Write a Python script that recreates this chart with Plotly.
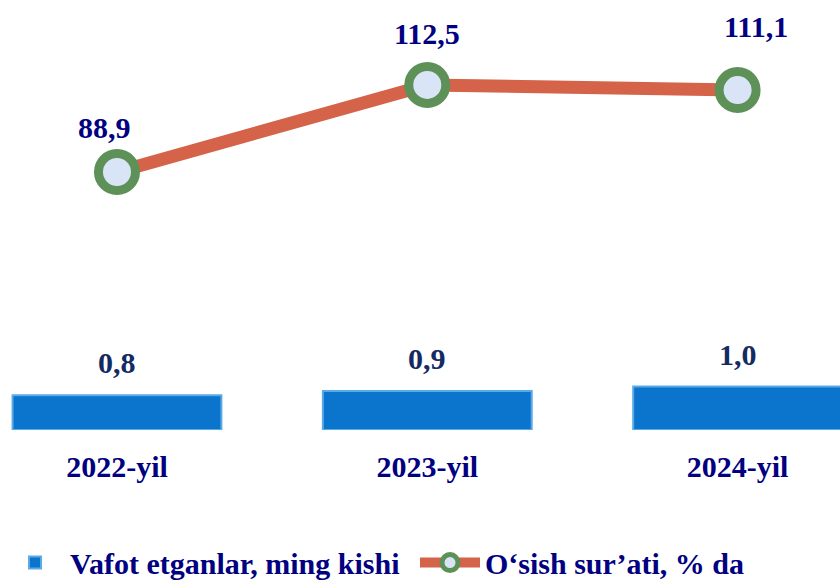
import plotly.graph_objects as go

years = ["2022-yil", "2023-yil", "2024-yil"]
deaths = [0.8, 0.9, 1.0]
deaths_text = ["0,8", "0,9", "1,0"]
growth = [88.9, 112.5, 111.1]
growth_text = ["88,9", "112,5", "111,1"]

serif = "Liberation Serif, Times New Roman, serif"

fig = go.Figure()

fig.add_trace(go.Bar(
    x=years, y=deaths, name="Vafot etganlar, ming kishi",
    marker=dict(color="#0b74cc", line=dict(color="#5aaae8", width=2)),
))

fig.add_trace(go.Scatter(
    x=years, y=growth, name="O‘sish sur’ati, % da", yaxis="y2",
    mode="lines+markers",
    line=dict(color="#d4634a", width=13),
    marker=dict(size=37, color="#d9e5f7", line=dict(color="#5e9158", width=9)),
    cliponaxis=False,
))

# value labels (offsets in px tuned by eye)
bar_lbl_shift = [14, 14, 14]
for x, v, t, dy in zip(years, deaths, deaths_text, bar_lbl_shift):
    fig.add_annotation(x=x, y=v, text="<b>" + t + "</b>", showarrow=False,
                       yanchor="bottom", yshift=dy,
                       font=dict(family=serif, size=30, color="#132a63"))

line_lbl_shift = [(-12, 26), (0, 33), (18, 45)]
for x, v, t, (dx, dy) in zip(years, growth, growth_text, line_lbl_shift):
    fig.add_annotation(x=x, y=v, yref="y2", text="<b>" + t + "</b>", showarrow=False,
                       yanchor="bottom", xshift=dx, yshift=dy,
                       font=dict(family=serif, size=30, color="#000080"))

fig.update_layout(
    width=840, height=580,
    margin=dict(l=0, r=0, t=0, b=150),
    paper_bgcolor="white", plot_bgcolor="white",
    bargap=0.327,
    font=dict(family=serif, color="#000080"),
    xaxis=dict(range=[-0.377, 2.33], showgrid=False, showline=False, zeroline=False,
               ticks="", ticklabelstandoff=16,
               tickfont=dict(family=serif, size=30, color="#000080", weight="bold")),
    yaxis=dict(range=[0, 9.9], visible=False),
    yaxis2=dict(range=[19.0, 135.5], overlaying="y", visible=False),
    showlegend=True,
    legend=dict(orientation="h", x=0.0, xanchor="left", yref="container",
                y=0.03, yanchor="middle",
                font=dict(family=serif, size=30, color="#000080", weight="bold"),
                itemwidth=60, entrywidth=340, traceorder="normal"),
)

fig.write_html("out.html", config={"displayModeBar": False},
               post_script="document.body.style.margin='0';")
